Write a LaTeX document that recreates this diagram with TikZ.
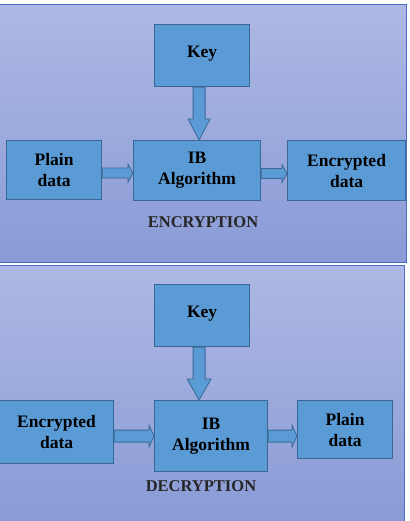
\documentclass[tikz,border=0pt]{standalone}
\usepackage{fontspec}
\setmainfont{Liberation Serif}
\usetikzlibrary{calc}
\definecolor{bgtop}{RGB}{174,184,227}
\definecolor{bgbot}{RGB}{137,155,214}
\definecolor{boxfill}{RGB}{91,155,213}
\definecolor{boxline}{RGB}{58,104,150}
\definecolor{panelline}{RGB}{72,110,200}
\tikzset{
  box/.style={draw=boxline, line width=1.2pt, fill=boxfill, rectangle, anchor=north west,
    inner sep=0pt, align=center, font=\fontsize{17.5}{21}\selectfont\bfseries},
  arr/.style={draw=boxline, line width=0.8pt, fill=boxfill, line join=miter},
  panel/.style={draw=panelline, line width=1pt, top color=bgtop, bottom color=bgbot},
  title/.style={font=\fontsize{16.5}{19}\selectfont\bfseries, text=black!85}
}
% horizontal block arrow: from, to, dy, shaft half, head half, head length
\newcommand{\harr}[6]{%
  \draw[arr] ($(#1.east)+(0,#3-#4)$) -- ($(#2.west |- #1.east)+(-#6,#3-#4)$)
    -- ($(#2.west |- #1.east)+(-#6,#3-#5)$) -- ($(#2.west |- #1.east)+(0,#3)$)
    -- ($(#2.west |- #1.east)+(-#6,#3+#5)$) -- ($(#2.west |- #1.east)+(-#6,#3+#4)$)
    -- ($(#1.east)+(0,#3+#4)$) -- cycle;}
% vertical block arrow: from, to, dx, shaft half, head half, head length
\newcommand{\varr}[6]{%
  \draw[arr] ($(#1.south)+(#3-#4,0)$) -- ($(#1.south |- #2.north)+(#3-#4,-#6)$)
    -- ($(#1.south |- #2.north)+(#3-#5,-#6)$) -- ($(#1.south |- #2.north)+(#3,0)$)
    -- ($(#1.south |- #2.north)+(#3+#5,-#6)$) -- ($(#1.south |- #2.north)+(#3+#4,-#6)$)
    -- ($(#1.south)+(#3+#4,0)$) -- cycle;}
\begin{document}
\begin{tikzpicture}[x=1pt,y=-1pt]
\useasboundingbox (0,0) rectangle (409,521);
\fill[white] (0,0) rectangle (409,521);
% panels
\path[panel] (-2,5) rectangle (406,262);
\path[panel] (-2,265) rectangle (404,523);
% encryption
\node[box, minimum width=95, minimum height=62] (key1) at (154,24) {\raisebox{7pt}{Key}};
\node[box, minimum width=95, minimum height=59] (plain1) at (6,140) {Plain\\data};
\node[box, minimum width=127, minimum height=60] (ib1) at (133,140) {IB\\Algorithm};
\node[box, minimum width=118, minimum height=60] (enc1) at (287,140) {Encrypted\\data};
\varr{key1}{ib1}{-3}{6}{11}{21}
\harr{plain1}{ib1}{3}{5}{9}{5}
\harr{ib1}{enc1}{3}{5}{9}{5}
\node[title] (t1) at (203,222) {ENCRYPTION};
% decryption
\node[box, minimum width=95, minimum height=62] (key2) at (154,284) {\raisebox{7pt}{Key}};
\node[box, minimum width=114, minimum height=63] (enc2) at (-1,400) {Encrypted\\data};
\node[box, minimum width=113, minimum height=71] (ib2) at (154,400) {IB\\Algorithm};
\node[box, minimum width=95, minimum height=58] (plain2) at (297,400) {Plain\\data};
\varr{key2}{ib2}{-3}{6}{12}{21}
\harr{enc2}{ib2}{4}{6}{11}{5}
\harr{ib2}{plain2}{0}{6}{11}{5}
\node[title] (t2) at (201,486) {DECRYPTION};
\end{tikzpicture}
\end{document}
